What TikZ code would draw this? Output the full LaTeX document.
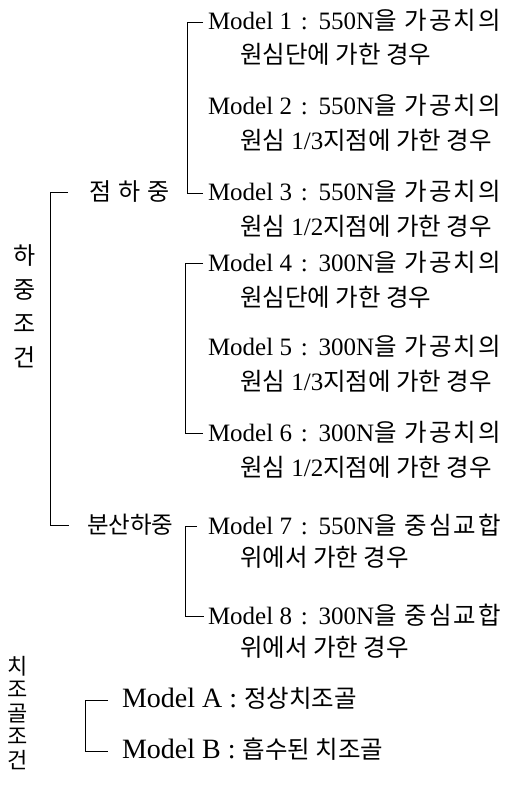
\documentclass[tikz,border=0pt]{standalone}
\usepackage{fontspec}
\setmainfont{Liberation Serif}
\newfontfamily\krf{Noto Sans CJK KR}
\newfontfamily\krwf[LetterSpace=9]{Noto Sans CJK KR}
\newcommand{\K}[1]{{\krf\fontsize{24.5}{30}\selectfont #1}}
\newcommand{\KW}[1]{{\krwf\fontsize{24.5}{30}\selectfont #1}}
\newcommand{\cl}{\hspace{2.5pt}:\hspace{2.5pt}}
\begin{document}
\begin{tikzpicture}[x=1pt,y=-1pt,
  every node/.style={inner sep=0pt,outer sep=0pt},
  mtext/.style={anchor=base west,font=\fontsize{25}{30}\selectfont},
  abtext/.style={anchor=base west,font=\fontsize{28}{30}\selectfont},
  tick/.style={line width=0.7pt}]
\useasboundingbox (0,0) rectangle (520,786);
% group 1
\node[mtext] (m1) at (208,30) {Model 1 \cl{} 550N\KW{을 가공치의}};
\node[mtext] (m1b) at (240,64) {\K{원심단에 가한 경우}};
\node[mtext] (m2) at (208,115) {Model 2 \cl{} 550N\KW{을 가공치의}};
\node[mtext] (m2b) at (240,150) {\K{원심} 1/3\K{지점에 가한 경우}};
\node[mtext] (m3) at (208,201) {Model 3 \cl{} 550N\KW{을 가공치의}};
\node[mtext] (m3b) at (240,236) {\K{원심} 1/2\K{지점에 가한 경우}};
% group 2
\node[mtext] (m4) at (208,271) {Model 4 \cl{} 300N\KW{을 가공치의}};
\node[mtext] (m4b) at (240,306) {\K{원심단에 가한 경우}};
\node[mtext] (m5) at (208,355) {Model 5 \cl{} 300N\KW{을 가공치의}};
\node[mtext] (m5b) at (240,390) {\K{원심} 1/3\K{지점에 가한 경우}};
\node[mtext] (m6) at (208,441) {Model 6 \cl{} 300N\KW{을 가공치의}};
\node[mtext] (m6b) at (240,476) {\K{원심} 1/2\K{지점에 가한 경우}};
% group 3
\node[mtext] (m7) at (208,534) {Model 7 \cl{} 550N\KW{을 중심교합}};
\node[mtext] (m7b) at (240,566) {\K{위에서 가한 경우}};
\node[mtext] (m8) at (208,624) {Model 8 \cl{} 300N\KW{을 중심교합}};
\node[mtext] (m8b) at (240,656) {\K{위에서 가한 경우}};
% A/B
\node[abtext] (mA) at (122,707) {Model A : \K{정상치조골}};
\node[abtext] (mB) at (122,758) {Model B : \K{흡수된 치조골}};
% left labels
\node[anchor=west,font=\krf\fontsize{24}{30}\selectfont] (p1) at (89,192) {점\hspace{7pt}하\hspace{7pt}중};
\node[anchor=west,font=\krf\fontsize{23.5}{30}\selectfont] (p2) at (87,525) {분산하중};
\node[align=center,font=\krf\fontsize{24}{34}\selectfont] (h) at (25,306) {하\\중\\조\\건};
\node[align=center,font=\krf\fontsize{22}{23.5}\selectfont] (c) at (18,713) {치\\조\\골\\조\\건};
% brackets
\draw[tick] ([xshift=-5pt,yshift=8pt]m1.base west) -- ++(-16,0) |- ([xshift=-5pt,yshift=8pt]m3.base west);
\draw[tick] ([xshift=-5pt,yshift=8pt]m4.base west) -- ++(-18,0) |- ([xshift=-5pt,yshift=8pt]m6.base west);
\draw[tick] ([xshift=-11pt,yshift=8pt]m7.base west) -- ++(-12,0) |- ([xshift=-4pt,yshift=8pt]m8.base west);
\draw[tick] ([xshift=-21pt]p1.west) -- ++(-18,0) |- ([xshift=-18pt]p2.west);
\draw[tick] ([xshift=-14pt,yshift=7pt]mA.base west) -- ++(-23,0) |- ([xshift=-14pt,yshift=7pt]mB.base west);
\end{tikzpicture}
\end{document}
